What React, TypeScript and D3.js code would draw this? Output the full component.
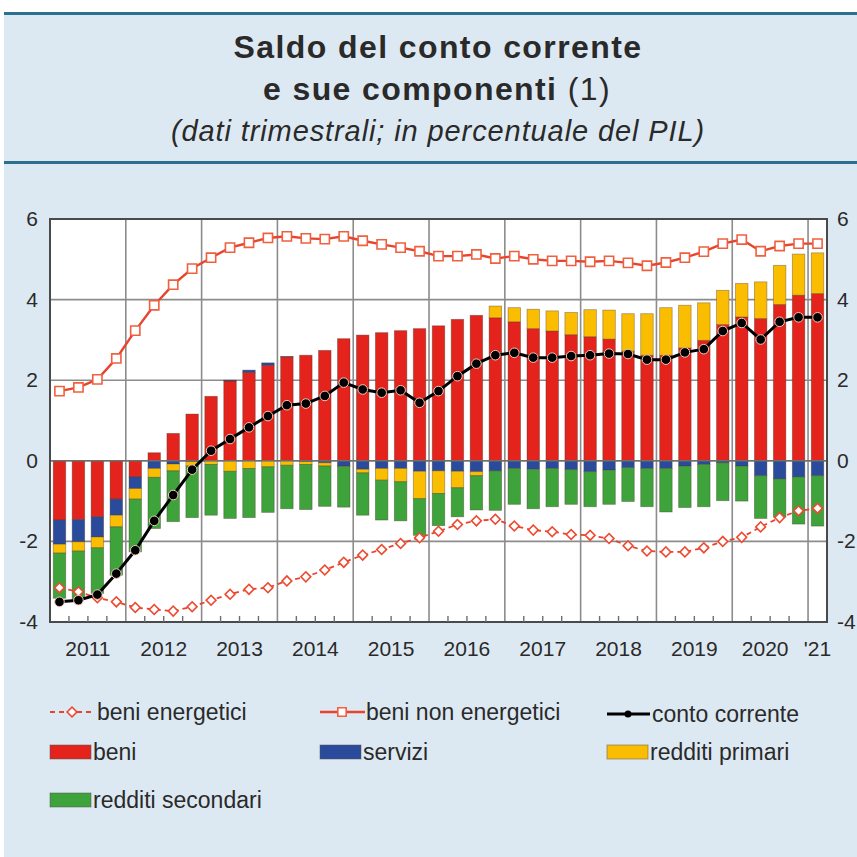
import React from 'react';
import * as d3 from 'd3';

// quarterly data, 2011 Q1 - 2021 Q1, % of GDP
const years = ['2011', '2012', '2013', '2014', '2015', '2016', '2017', '2018', '2019', '2020', "'21"];
const quarters: string[] = years.flatMap((yr, i) =>
  i < years.length - 1 ? ['Q1', 'Q2', 'Q3', 'Q4'].map(q => `${yr} ${q}`) : [`${yr} Q1`]
);

const beni = [-1.47, -1.46, -1.39, -0.95, -0.40, 0.20, 0.68, 1.16, 1.60, 1.98,
  2.19, 2.37, 2.58, 2.62, 2.74, 3.03, 3.12, 3.18, 3.23, 3.28,
  3.35, 3.51, 3.61, 3.55, 3.45, 3.28, 3.22, 3.13, 3.08, 3.02,
  2.72, 2.62, 2.62, 2.80, 2.99, 3.38, 3.57, 3.53, 3.88, 4.11, 4.15];
const servizi = [-0.60, -0.55, -0.50, -0.40, -0.29, -0.19, -0.08, -0.02, 0.00, 0.02,
  0.06, 0.06, 0.01, -0.02, -0.05, -0.13, -0.21, -0.19, -0.19, -0.26,
  -0.25, -0.26, -0.27, -0.25, -0.19, -0.21, -0.19, -0.22, -0.27, -0.23,
  -0.17, -0.19, -0.19, -0.13, -0.09, -0.05, -0.13, -0.37, -0.45, -0.40, -0.37];
const redditiPrimari = [-0.22, -0.23, -0.27, -0.29, -0.26, -0.22, -0.17, -0.11, -0.09, -0.26,
  -0.19, -0.15, -0.11, -0.07, -0.08, -0.01, -0.09, -0.29, -0.33, -0.68,
  -0.56, -0.41, -0.10, 0.29, 0.35, 0.48, 0.50, 0.55, 0.67, 0.72,
  0.93, 1.03, 1.18, 1.06, 0.93, 0.85, 0.83, 0.91, 0.97, 1.02, 1.01];
const redditiSecondari = [-1.12, -1.20, -1.13, -1.20, -1.31, -1.27, -1.26, -1.28, -1.26, -1.17,
  -1.22, -1.13, -1.08, -1.12, -1.00, -1.01, -1.05, -0.99, -0.97, -0.91,
  -0.80, -0.72, -0.85, -0.98, -0.89, -0.98, -0.95, -0.86, -0.87, -0.85,
  -0.84, -0.95, -1.08, -1.03, -1.05, -0.94, -0.87, -1.06, -0.95, -1.17, -1.25];
const contoCorrente = [-3.50, -3.46, -3.32, -2.80, -2.22, -1.49, -0.85, -0.22, 0.25, 0.54,
  0.83, 1.11, 1.38, 1.42, 1.61, 1.94, 1.77, 1.69, 1.75, 1.44,
  1.73, 2.10, 2.41, 2.62, 2.68, 2.56, 2.56, 2.60, 2.62, 2.66,
  2.65, 2.51, 2.51, 2.69, 2.77, 3.22, 3.42, 3.01, 3.45, 3.56, 3.56];
const beniNonEnergetici = [1.73, 1.82, 2.02, 2.54, 3.23, 3.86, 4.37, 4.77, 5.04, 5.29,
  5.41, 5.53, 5.57, 5.52, 5.50, 5.57, 5.46, 5.37, 5.29, 5.20,
  5.08, 5.08, 5.12, 5.02, 5.08, 5.00, 4.96, 4.96, 4.94, 4.96,
  4.91, 4.84, 4.92, 5.04, 5.19, 5.39, 5.49, 5.20, 5.33, 5.39, 5.39];
const beniEnergetici = [-3.15, -3.25, -3.40, -3.50, -3.64, -3.69, -3.73, -3.62, -3.46, -3.31,
  -3.19, -3.15, -2.98, -2.88, -2.71, -2.52, -2.34, -2.20, -2.05, -1.91,
  -1.75, -1.58, -1.49, -1.45, -1.62, -1.72, -1.76, -1.83, -1.85, -1.93,
  -2.11, -2.24, -2.26, -2.26, -2.16, -2.00, -1.90, -1.64, -1.41, -1.24, -1.18];

const yTicks = [-4, -2, 0, 2, 4, 6];

const barKeys = ['beni', 'servizi', 'redditiPrimari', 'redditiSecondari'];
const colors: Record<string, string> = {
  beni: '#e3231c',
  servizi: '#2a4b9b',
  redditiPrimari: '#fbbd00',
  redditiSecondari: '#3ea33a',
};
const lineRed = '#e8432e';
const font = 'Liberation Sans, Arial, Helvetica, sans-serif';
const textColor = '#2a2a2a';

export default function App() {
  const W = 857, H = 857;
  const plot = { left: 50, right: 827, top: 219, bottom: 622 };

  const x = d3.scaleBand<string>()
    .domain(quarters)
    .range([plot.left, plot.right])
    .paddingInner(0.34)
    .paddingOuter(0.17);
  const y = d3.scaleLinear().domain([-4, 6]).range([plot.bottom, plot.top]);
  const step = x.step();
  const cx = (q: string) => (x(q) as number) + x.bandwidth() / 2;
  const boundary = (i: number) => (x(quarters[i]) as number) - step * x.paddingOuter();

  const rows = quarters.map((q, i) => ({
    q,
    beni: beni[i],
    servizi: servizi[i],
    redditiPrimari: redditiPrimari[i],
    redditiSecondari: redditiSecondari[i],
  }));
  const series = d3.stack<any>().keys(barKeys).offset(d3.stackOffsetDiverging)(rows);

  const line = d3.line<number>()
    .x((_, i) => cx(quarters[i]))
    .y(d => y(d));

  const square = d3.symbol(d3.symbolSquare, 85)();
  const diamond = d3.symbol(d3.symbolSquare, 48)();
  const smallSquare = d3.symbol(d3.symbolSquare, 70)();

  const yearBounds = d3.range(4, quarters.length, 4);
  const minorBounds = d3.range(1, quarters.length).filter(i => i % 4 !== 0);

  const legendRect = (lx: number, ly: number, key: string, label: string) => (
    <g key={label}>
      <rect x={lx} y={ly - 7} width={41} height={14} fill={colors[key]}
        stroke="#555" strokeOpacity={0.5} strokeWidth={1} />
      <text x={lx + 43} y={ly + 8} fontSize={23} fill={textColor}>{label}</text>
    </g>
  );

  return (
    <svg width={W} height={H} style={{ position: 'absolute', left: 0, top: 0 }} fontFamily={font}>
      <rect x={0} y={0} width={W} height={H} fill="#ffffff" />
      <rect x={4} y={13} width={W - 4} height={H - 13} fill="#dde9f2" />
      <line x1={4} x2={W} y1={13.5} y2={13.5} stroke="#2c7090" strokeWidth={3} />
      <line x1={4} x2={W} y1={162.5} y2={162.5} stroke="#2c7090" strokeWidth={3} />

      {/* title */}
      <text x={438} y={58} textAnchor="middle" fontSize={32} fontWeight="bold" letterSpacing={1.4} fill={textColor}>
        Saldo del conto corrente
      </text>
      <text x={437} y={100} textAnchor="middle" fontSize={32} letterSpacing={1.4} fill={textColor}>
        <tspan fontWeight="bold">e sue componenti</tspan> (1)
      </text>
      <text x={438} y={141} textAnchor="middle" fontSize={29} fontStyle="italic" letterSpacing={0.9} fill={textColor}>
        (dati trimestrali; in percentuale del PIL)
      </text>

      {/* plot area */}
      <rect x={plot.left} y={plot.top} width={plot.right - plot.left} height={plot.bottom - plot.top} fill="#ffffff" />
      {yTicks.filter(t => t > -4 && t < 6).map(t => (
        <line key={t} x1={plot.left} x2={plot.right} y1={y(t)} y2={y(t)} stroke="#8c8c8c" strokeWidth={1.6} />
      ))}
      {yearBounds.map(i => (
        <line key={i} x1={boundary(i)} x2={boundary(i)} y1={plot.top} y2={plot.bottom} stroke="#8c8c8c" strokeWidth={1.6} />
      ))}

      {/* stacked bars */}
      {series.map(s => (
        <g key={s.key} fill={colors[s.key]}>
          {s.map((d, i) => {
            const h = Math.abs(y(d[0]) - y(d[1]));
            if (h < 0.01) return null;
            return (
              <rect key={i} x={x(quarters[i])} y={Math.min(y(d[0]), y(d[1]))}
                width={x.bandwidth()} height={h}
                stroke="#4a3a30" strokeOpacity={0.45} strokeWidth={0.8} />
            );
          })}
        </g>
      ))}
      <line x1={plot.left} x2={plot.right} y1={y(0)} y2={y(0)} stroke="#6e6e6e" strokeWidth={1.4} />

      {/* beni non energetici */}
      <path d={line(beniNonEnergetici) || ''} fill="none" stroke={lineRed} strokeWidth={2.4} />
      {beniNonEnergetici.map((v, i) => (
        <path key={i} d={square || ''} transform={`translate(${cx(quarters[i])},${y(v)})`}
          fill="#ffffff" stroke="#f0603f" strokeWidth={1.6} />
      ))}

      {/* beni energetici */}
      <path d={line(beniEnergetici) || ''} fill="none" stroke={lineRed} strokeWidth={1.8} strokeDasharray="5,4" />
      {beniEnergetici.map((v, i) => (
        <path key={i} d={diamond || ''} transform={`translate(${cx(quarters[i])},${y(v)}) rotate(45)`}
          fill="#ffffff" stroke="#ee4a30" strokeWidth={1.6} />
      ))}

      {/* conto corrente */}
      <path d={line(contoCorrente) || ''} fill="none" stroke="#000000" strokeWidth={3} />
      {contoCorrente.map((v, i) => (
        <circle key={i} cx={cx(quarters[i])} cy={y(v)} r={4.8} fill="#000000" stroke="#f4cbbd" strokeWidth={1} />
      ))}

      {/* frame and ticks */}
      <rect x={plot.left} y={plot.top} width={plot.right - plot.left} height={plot.bottom - plot.top}
        fill="none" stroke="#4a4a4a" strokeWidth={2} />
      {minorBounds.map(i => (
        <line key={i} x1={boundary(i)} x2={boundary(i)} y1={plot.bottom} y2={plot.bottom - 6} stroke="#6e6e6e" strokeWidth={1.4} />
      ))}

      {/* y labels */}
      {yTicks.map(t => (
        <g key={t} fontSize={21} fill={textColor}>
          <text x={38} y={y(t) + 7} textAnchor="end">{t}</text>
          <text x={837} y={y(t) + 7}>{t}</text>
        </g>
      ))}

      {/* x labels */}
      {years.map((yr, k) => {
        const xm = k < years.length - 1 ? boundary(k * 4) + 2 * step : cx(quarters[k * 4]);
        return (
          <text key={yr} x={k === years.length - 2 ? xm - 5 : xm} y={656} textAnchor="middle" fontSize={21} fill={textColor}>{yr}</text>
        );
      })}

      {/* legend */}
      <g>
        <line x1={50} x2={95} y1={712} y2={712} stroke={lineRed} strokeWidth={1.8} strokeDasharray="5,4" />
        <path d={diamond || ''} transform="translate(72,712) rotate(45)" fill="#ffffff" stroke="#ee4a30" strokeWidth={1.6} />
        <text x={97} y={720} fontSize={23} fill={textColor}>beni energetici</text>

        <line x1={320} x2={365} y1={712} y2={712} stroke={lineRed} strokeWidth={2.4} />
        <path d={smallSquare || ''} transform="translate(342,712)" fill="#ffffff" stroke="#f0603f" strokeWidth={1.6} />
        <text x={366} y={720} fontSize={23} fill={textColor}>beni non energetici</text>

        <line x1={607} x2={650} y1={714} y2={714} stroke="#000000" strokeWidth={3} />
        <circle cx={628} cy={714} r={3.5} fill="#000000" />
        <text x={652} y={722} fontSize={23} fill={textColor}>conto corrente</text>

        {legendRect(50, 752, 'beni', 'beni')}
        {legendRect(320, 752, 'servizi', 'servizi')}
        {legendRect(607, 752, 'redditiPrimari', 'redditi primari')}
        {legendRect(50, 800, 'redditiSecondari', 'redditi secondari')}
      </g>
    </svg>
  );
}
